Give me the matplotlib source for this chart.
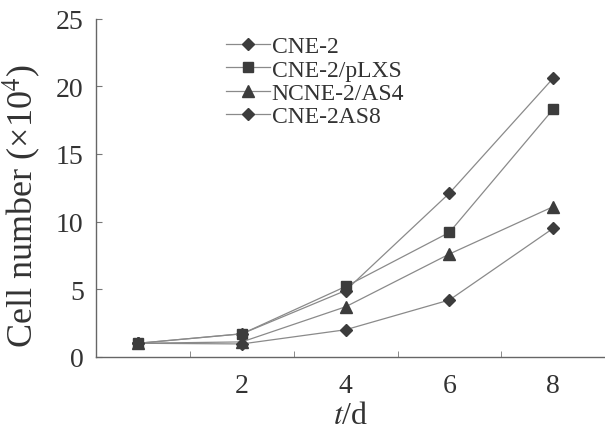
import matplotlib
matplotlib.use("Agg")
import matplotlib.pyplot as plt

plt.rcParams['font.family'] = ['Liberation Serif', 'DejaVu Serif']
plt.rcParams['mathtext.fontset'] = 'stix'

# Дані
days = [0, 2, 4, 6, 8]
cne2 = [1.0, 1.7, 4.9, 12.1, 20.6]
cne2_plxs = [1.0, 1.7, 5.2, 9.2, 18.3]
ncne2_as4 = [1.0, 1.1, 3.7, 7.6, 11.1]
cne2_as8 = [1.0, 0.95, 2.0, 4.2, 9.5]

labels = ['CNE-2', 'CNE-2/pLXS', 'NCNE-2/AS4', 'CNE-2AS8']
markers = ['D', 's', '^', 'D']
sizes = [6, 7, 8, 6]
series = [cne2, cne2_plxs, ncne2_as4, cne2_as8]

fig = plt.figure(figsize=(6.05, 4.39), dpi=100)
ax = fig.add_axes([0.159, 0.185, 0.841, 0.77])

for vals, lab, m, ms in zip(series, labels, markers, sizes):
    ax.plot(days, vals, color='#8a8a8a', lw=0.9, marker=m, ms=ms,
            mfc='#3c3c3c', mec='#3c3c3c', label=lab)

ax.set_xlim(-0.81, 9.0)
ax.set_ylim(0, 25)
ax.set_xticks([2, 4, 6, 8])
ax.set_xticks([1, 3, 5, 7], minor=True)
ax.set_yticks([0, 5, 10, 15, 20, 25])
ax.tick_params(axis='x', which='major', length=0, labelsize=20, pad=12, colors='#333333')
ax.tick_params(axis='x', which='minor', length=4, direction='in', color='#777777')
ax.tick_params(axis='y', length=4, direction='in', labelsize=20, pad=9,
               colors='#333333', color='#777777')

for s in ['top', 'right']:
    ax.spines[s].set_visible(False)
for s in ['left', 'bottom']:
    ax.spines[s].set_color('#666666')
    ax.spines[s].set_linewidth(1.0)

ax.set_xlabel('$t$/d', fontsize=23, color='#333333', labelpad=2)
ax.set_ylabel('Cell number (×10$^4$)', fontsize=26, color='#333333')
ax.yaxis.set_label_coords(-0.104, 0.45)

leg = ax.legend(loc='upper left', bbox_to_anchor=(0.231, 0.985), frameon=False,
                fontsize=17, handlelength=1.9, handletextpad=0.05,
                labelspacing=0.08, borderpad=0, labelcolor='#333333')

fig.savefig('out.png', dpi=100)
